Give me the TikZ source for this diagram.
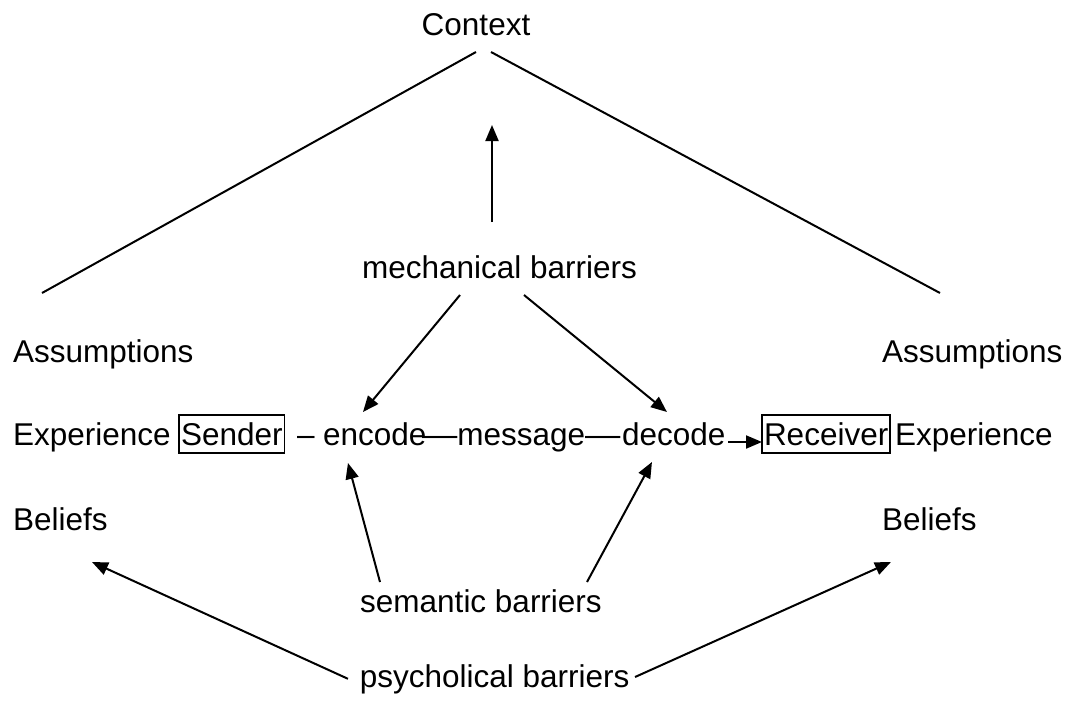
\documentclass[tikz,border=0pt]{standalone}
\usepackage{fontspec}
\setmainfont{Liberation Sans}
\usetikzlibrary{arrows.meta,positioning}
\newcommand{\longdash}{\scalebox{1.12}[1]{—}}

\begin{document}
\begin{tikzpicture}[x=0.5pt,y=-0.5pt,>={Triangle[length=8pt,width=6.5pt]},line width=1pt,
  lbl/.style={inner sep=0pt,outer sep=0pt,text height=11.5pt,text depth=3.3pt,font=\fontsize{15.75}{19}\selectfont},
  boxed/.style={draw,line width=0.9pt,inner xsep=1pt,inner ysep=3.9pt,outer sep=0pt,text height=11.3pt,text depth=0pt,font=\fontsize{15.75}{19}\selectfont}]
\useasboundingbox (0,0) rectangle (1072,702);
\node[lbl,anchor=base] (ctx) at (476,35) {Context};
\node[lbl,anchor=base] (mech) at (499.5,278) {mechanical barriers};
\node[lbl,anchor=base west] (asmL) at (13,362) {Assumptions};
\node[lbl,anchor=base west] (asmR) at (882,362) {Assumptions};
\node[lbl,anchor=base west] (expL) at (13,445) {Experience};
\node[boxed,anchor=base west] (sender) at (179,445) {Sender};
\node[lbl,anchor=base west] (dash) at (297,445) {–};
\node[lbl,anchor=base west] (encode) at (323,445) {encode};
\node[lbl,anchor=base west] (msg) at (422,445) {\longdash message\longdash};
\node[lbl,anchor=base west] (decode) at (622,445) {decode};
\node[boxed,anchor=base west] (receiver) at (762,445) {Receiver};
\node[lbl,anchor=base west] (expR) at (895,445) {Experience};
\node[lbl,anchor=base west] (belL) at (13,530) {Beliefs};
\node[lbl,anchor=base west] (belR) at (882,530) {Beliefs};
\node[lbl,anchor=base] (sem) at (481,612) {semantic barriers};
\node[lbl,anchor=base] (psych) at (494.75,687) {psycholical barriers};
% context lines
\draw ([yshift=-5.2pt]ctx.south) -- ([xshift=14.5pt,yshift=23pt]asmL.north west);
\draw ([xshift=7.5pt,yshift=-5.2pt]ctx.south) -- ([xshift=29pt,yshift=23pt]asmR.north west);
% barriers
\draw[->] ([xshift=-3.75pt,yshift=16.5pt]mech.north) -- ([xshift=8pt,yshift=-41.7pt]ctx.south);
\draw[->] ([xshift=-19.75pt,yshift=-5.2pt]mech.south) -- ([xshift=-5.85pt,yshift=5pt]encode.north);
\draw[->] ([xshift=12.25pt,yshift=-5.2pt]mech.south) -- ([xshift=-3.35pt,yshift=5pt]decode.north);
\draw[->] ([xshift=-50.5pt,yshift=3.5pt]sem.north) -- ([xshift=-13.35pt,yshift=-5.7pt]encode.south);
\draw[->] ([xshift=53pt,yshift=3.5pt]sem.north) -- ([xshift=-10.85pt,yshift=-5.2pt]decode.south);
\draw[->] ([xshift=-6pt]psych.west) -- ([xshift=15.85pt,yshift=-12.7pt]belL.south);
\draw[->] ([xshift=2.75pt,yshift=0.9pt]psych.east) -- ([xshift=-19.15pt,yshift=-12.7pt]belR.south);
\draw[->] ([xshift=1.5pt,yshift=1.5pt]decode.base east) -- ([yshift=1.5pt]receiver.base west);
\end{tikzpicture}
\end{document}
